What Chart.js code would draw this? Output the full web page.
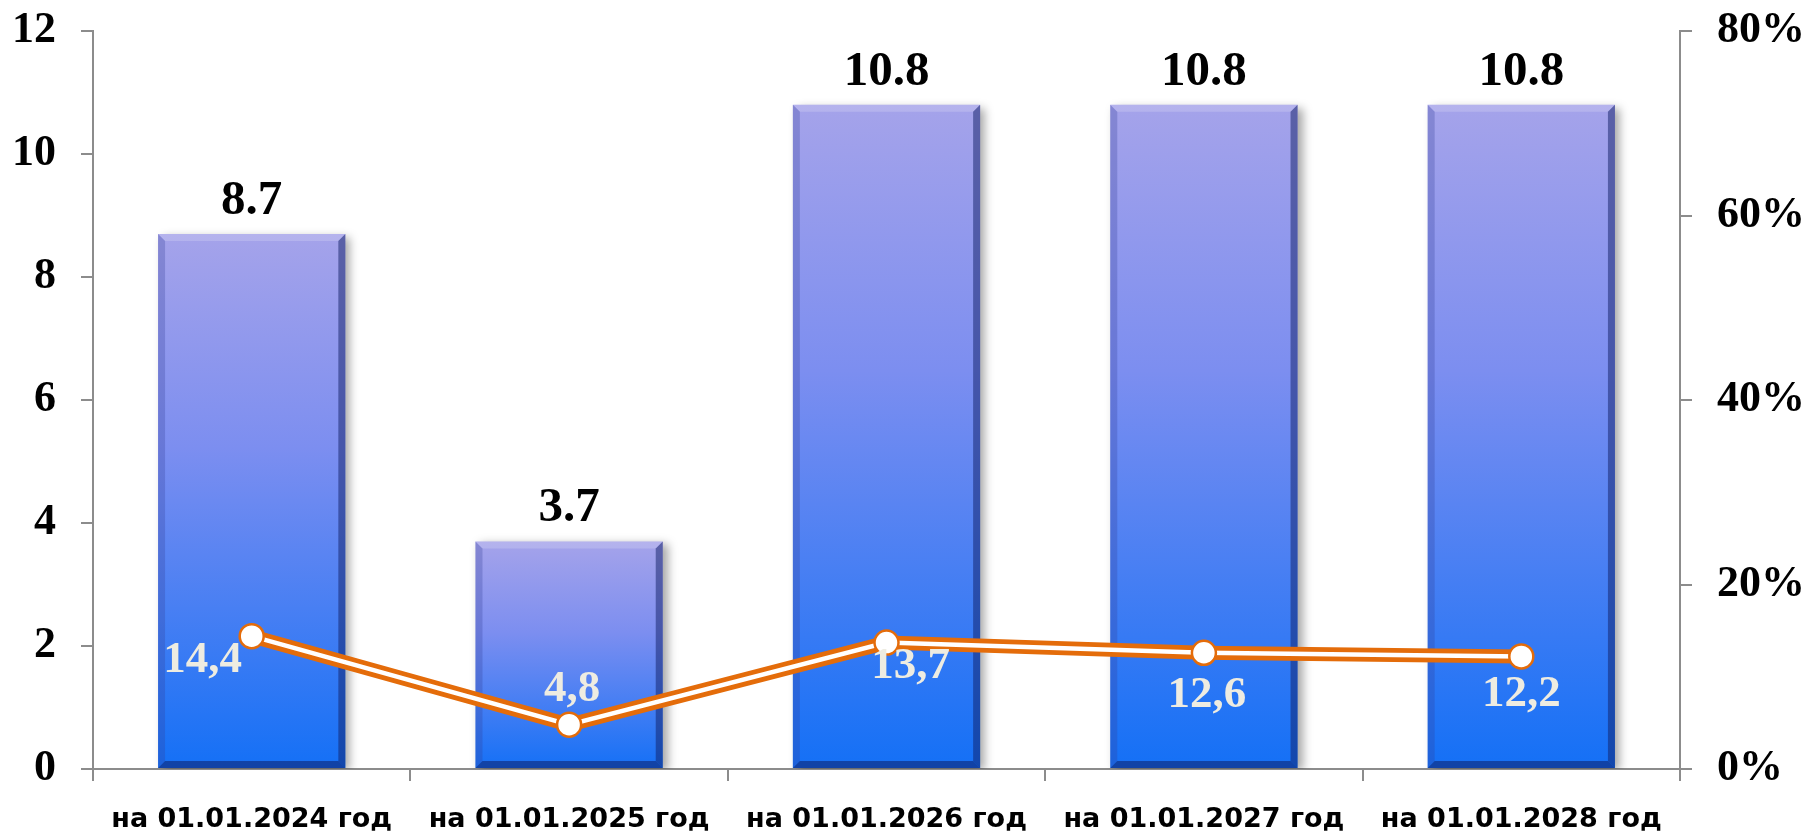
<!DOCTYPE html>
<html>
<head>
<meta charset="utf-8">
<script src="https://cdn.jsdelivr.net/npm/chart.js@4/dist/chart.umd.min.js"></script>
<style>
    body { margin: 0; background: #ffffff; }
    #wrap { width: 1805px; height: 836px; }
</style>
</head>
<body>
<div id="wrap"><canvas id="mainChart" width="1805" height="836"></canvas></div>
<script>
//// Declarations states

// Data
const categories = ["на 01.01.2024 год", "на 01.01.2025 год", "на 01.01.2026 год", "на 01.01.2027 год", "на 01.01.2028 год"];
const barValues = [8.7, 3.7, 10.8, 10.8, 10.8];
const percentValues = [14.4, 4.8, 13.7, 12.6, 12.2];
const leftTicks = [0, 2, 4, 6, 8, 10, 12];
const rightTicks = [0, 20, 40, 60, 80];

// Label placement for the percent values (offset from the point, px)
const percentLabelOffsets = [[-49, 24], [3, -35], [24, 24], [3, 43], [0, 38]];

// Styles
const axisGray = '#8c8c8c';
const lineOrange = '#e46c0a';
const serifBold = "'Liberation Serif', 'Times New Roman', serif";

// Functions
const barGradient = (context) => {
    const chart = context.chart;
    if (!chart.chartArea || context.type !== 'data') return '#4a80f0';
    const yScale = chart.scales.y;
    const top = yScale.getPixelForValue(context.raw);
    const bottom = yScale.getPixelForValue(0);
    const g = chart.ctx.createLinearGradient(0, top, 0, bottom);
    g.addColorStop(0, '#a5a3ea');
    g.addColorStop(0.4, '#7c8ef0');
    g.addColorStop(1, '#1470f6');
    return g;
};

// keep the plot area where the original has it
const fixPadding = (scale) => {
    scale.paddingTop = 31;
    scale.paddingBottom = 0;
};

// bar shadow + bevel edges
const bevelPlugin = {
    id: 'bevel',
    beforeDatasetDraw(chart, args) {
        if (args.index !== 0) return;
        const ctx = chart.ctx;
        ctx.save();
        ctx.shadowColor = 'rgba(0,0,0,0.35)';
        ctx.shadowOffsetX = 5;
        ctx.shadowOffsetY = 3;
        ctx.shadowBlur = 9;
    },
    afterDatasetDraw(chart, args) {
        if (args.index !== 0) return;
        const ctx = chart.ctx;
        ctx.restore();
        const b = 7;
        args.meta.data.forEach(bar => {
            const l = bar.x - bar.width / 2, r = bar.x + bar.width / 2;
            const t = bar.y, btm = bar.base;
            const poly = (pts, color) => {
                ctx.beginPath();
                ctx.moveTo(pts[0][0], pts[0][1]);
                pts.slice(1).forEach(p => ctx.lineTo(p[0], p[1]));
                ctx.closePath();
                ctx.fillStyle = color;
                ctx.fill();
            };
            ctx.save();
            poly([[l, t], [r, t], [r - b, t + b], [l + b, t + b]], 'rgba(255,255,255,0.18)');
            poly([[l, t], [l + b, t + b], [l + b, btm - b], [l, btm]], 'rgba(50,60,150,0.28)');
            poly([[r, t], [r, btm], [r - b, btm - b], [r - b, t + b]], 'rgba(15,30,100,0.5)');
            poly([[l, btm], [l + b, btm - b], [r - b, btm - b], [r, btm]], 'rgba(15,30,100,0.55)');
            ctx.restore();
        });
    }
};

// value labels above bars and percent labels near points
const labelPlugin = {
    id: 'valueLabels',
    afterDatasetsDraw(chart) {
        const ctx = chart.ctx;
        ctx.save();
        ctx.textAlign = 'center';
        ctx.textBaseline = 'alphabetic';
        ctx.fillStyle = '#000000';
        ctx.font = "bold 49px " + serifBold;
        chart.getDatasetMeta(0).data.forEach((bar, i) => {
            ctx.fillText(barValues[i].toFixed(1), bar.x, bar.y - 20);
        });
        ctx.textBaseline = 'middle';
        ctx.fillStyle = '#eeece1';
        ctx.font = "bold 45px " + serifBold;
        chart.getDatasetMeta(2).data.forEach((pt, i) => {
            const off = percentLabelOffsets[i];
            ctx.fillText(percentValues[i].toFixed(1).replace('.', ','), pt.x + off[0], pt.y + off[1]);
        });
        ctx.restore();
    }
};

// Chart initial
const chartInitial = () => {
    const canvas = document.getElementById('mainChart');

    const chartData = {
        labels: categories,
        datasets: [{
            type: 'bar',
            data: barValues,
            backgroundColor: barGradient,
            borderWidth: 0,
            categoryPercentage: 1,
            barPercentage: 0.59,
            yAxisID: 'y',
            order: 3
        }, {
            type: 'line',
            data: percentValues,
            borderColor: lineOrange,
            borderWidth: 14,
            pointRadius: 0,
            tension: 0,
            yAxisID: 'y1',
            order: 2
        }, {
            type: 'line',
            data: percentValues,
            borderColor: '#ffffff',
            borderWidth: 4.5,
            pointRadius: 12,
            pointBorderWidth: 2.5,
            pointBackgroundColor: '#ffffff',
            pointBorderColor: lineOrange,
            tension: 0,
            yAxisID: 'y1',
            order: 1
        }]
    };

    new Chart(canvas, {
        data: chartData,
        options: {
            responsive: false,
            animation: false,
            layout: { padding: 0 },
            plugins: {
                legend: { display: false },
                tooltip: { enabled: false }
            },
            scales: {
                x: {
                    type: 'category',
                    offset: true,
                    grid: { offset: true, drawOnChartArea: false, tickLength: 12, color: axisGray, lineWidth: 2 },
                    border: { color: axisGray, width: 2 },
                    ticks: {
                        color: '#000000',
                        padding: 23,
                        maxRotation: 0,
                        font: { family: "'DejaVu Sans', sans-serif", weight: 'bold', size: 27 }
                    },
                    afterFit: (scale) => { scale.height = 67; }
                },
                y: {
                    position: 'left',
                    min: leftTicks[0],
                    max: leftTicks[leftTicks.length - 1],
                    afterBuildTicks: (scale) => { scale.ticks = leftTicks.map(v => ({ value: v })); },
                    grid: { drawOnChartArea: false, tickLength: 12, color: axisGray, lineWidth: 2 },
                    border: { color: axisGray, width: 2 },
                    ticks: {
                        color: '#000000',
                        padding: 25,
                        font: { family: serifBold, weight: 'bold', size: 44 }
                    },
                    afterFit: (scale) => { scale.width = 93; fixPadding(scale); }
                },
                y1: {
                    position: 'right',
                    min: rightTicks[0],
                    max: rightTicks[rightTicks.length - 1],
                    afterBuildTicks: (scale) => { scale.ticks = rightTicks.map(v => ({ value: v })); },
                    grid: { drawOnChartArea: false, tickLength: 12, color: axisGray, lineWidth: 2 },
                    border: { color: axisGray, width: 2 },
                    ticks: {
                        color: '#000000',
                        padding: 25,
                        callback: (v) => v + '%',
                        font: { family: serifBold, weight: 'bold', size: 44 }
                    },
                    afterFit: (scale) => { scale.width = 125; fixPadding(scale); }
                }
            }
        },
        plugins: [bevelPlugin, labelPlugin]
    });
}

//// Executions state
window.onload = () => {
    chartInitial();
}
</script>
</body>
</html>
